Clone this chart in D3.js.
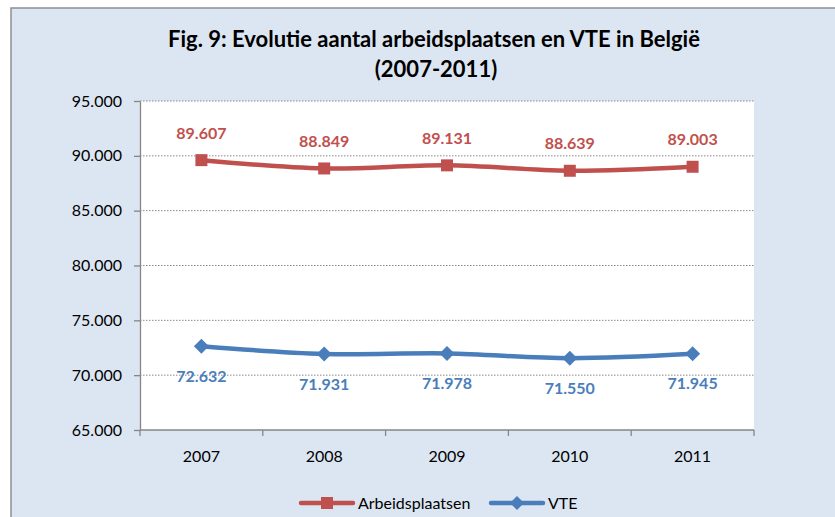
<!DOCTYPE html>
<html>
<head>
<meta charset="utf-8">
<script src="https://cdn.jsdelivr.net/npm/d3@7"></script>
<style>
  body { margin: 0; background: #fff; }
  svg { display: block; font-family: Lato, "Open Sans", sans-serif; }
</style>
</head>
<body>
<div id="chart"></div>
<script>
// --- data ---
const years = ["2007", "2008", "2009", "2010", "2011"];
const arbeidsplaatsen = [89607, 88849, 89131, 88639, 89003];
const vte = [72632, 71931, 71978, 71550, 71945];
const yTicks = [65000, 70000, 75000, 80000, 85000, 90000, 95000];

const width = 835, height = 517;
const margin = { top: 101, right: 81, bottom: 87, left: 140 };
const innerWidth = width - margin.left - margin.right;
const innerHeight = height - margin.top - margin.bottom;

const red = "#c0504d", blue = "#4a7ebb", axisGrey = "#868686";
const fmt = v => d3.format(",")(v).replace(/,/g, ".");

const svg = d3.select("#chart").append("svg")
  .attr("width", width)
  .attr("height", height);

// chart background; its right and bottom edges run off the picture,
// so only the top and left border lines show
svg.append("rect")
  .attr("x", 11).attr("y", 8)
  .attr("width", width - 11).attr("height", height - 8)
  .attr("fill", "#dce6f2");
svg.append("path")
  .attr("d", `M11,${height}V8H${width}`)
  .attr("fill", "none")
  .attr("stroke", "#8e8e8e")
  .attr("stroke-width", 1.5);

const g = svg.append("g")
  .attr("transform", `translate(${margin.left},${margin.top})`);

const x = d3.scaleBand().domain(years).range([0, innerWidth]);
const y = d3.scaleLinear().domain([65000, 95000]).range([innerHeight, 0]);
const cx = d => x(d) + x.bandwidth() / 2;

g.append("rect")
  .attr("width", innerWidth).attr("height", innerHeight)
  .attr("fill", "#fff");

// gridlines
g.append("g")
  .selectAll("line")
  .data(yTicks.filter(t => t > 65000))
  .join("line")
  .attr("x1", 0).attr("x2", innerWidth)
  .attr("y1", d => y(d)).attr("y2", d => y(d))
  .attr("stroke", "#8a8a8a")
  .attr("stroke-width", 1)
  .attr("stroke-dasharray", "1.5,1.5");

// y axis
const yAxis = g.append("g")
  .call(d3.axisLeft(y).tickValues(yTicks).tickFormat(fmt).tickSize(6).tickSizeOuter(0));
yAxis.select(".domain").attr("stroke", axisGrey).attr("stroke-width", 1.3);
yAxis.selectAll(".tick line").attr("stroke", axisGrey).attr("stroke-width", 1.3);
yAxis.selectAll(".tick text")
  .attr("x", -18)
  .attr("font-size", "16px")
  .attr("font-family", "Lato, sans-serif")
  .attr("fill", "#000");

// x axis: ticks sit between categories
const xAxis = g.append("g").attr("transform", `translate(0,${innerHeight})`);
xAxis.append("line")
  .attr("x1", 0).attr("x2", innerWidth)
  .attr("stroke", axisGrey).attr("stroke-width", 1.3);
xAxis.selectAll(".sep")
  .data(years.concat(["end"]))
  .join("line")
  .attr("class", "sep")
  .attr("x1", (d, i) => i * x.step()).attr("x2", (d, i) => i * x.step())
  .attr("y1", 0).attr("y2", 6)
  .attr("stroke", axisGrey).attr("stroke-width", 1.3);
xAxis.selectAll("text")
  .data(years)
  .join("text")
  .attr("x", d => cx(d))
  .attr("y", 32)
  .attr("text-anchor", "middle")
  .attr("font-size", "16px")
  .attr("fill", "#000")
  .text(d => d);

// lines
const line = d3.line()
  .x(d => cx(d.year))
  .y(d => y(d.value))
  .curve(d3.curveCatmullRom.alpha(0));

const series = [
  { name: "Arbeidsplaatsen", color: red, marker: "square", labelDy: -27,
    data: years.map((yr, i) => ({ year: yr, value: arbeidsplaatsen[i] })) },
  { name: "VTE", color: blue, marker: "diamond", labelDy: 30,
    data: years.map((yr, i) => ({ year: yr, value: vte[i] })) }
];

const squareSym = d3.symbol().type(d3.symbolSquare);
const diamondPath = s => `M0,${-s}L${s},0L0,${s}L${-s},0Z`;

series.forEach(s => {
  g.append("path")
    .datum(s.data)
    .attr("fill", "none")
    .attr("stroke", s.color)
    .attr("stroke-width", 4.5)
    .attr("stroke-linecap", "round")
    .attr("d", line);

  g.selectAll(".m-" + s.marker)
    .data(s.data)
    .join("path")
    .attr("class", "m-" + s.marker)
    .attr("transform", d => `translate(${cx(d.year)},${y(d.value)})`)
    .attr("d", s.marker === "square" ? squareSym.size(144)() : diamondPath(7.5))
    .attr("fill", s.color);

  g.selectAll(".lbl-" + s.marker)
    .data(s.data)
    .join("text")
    .attr("class", "lbl-" + s.marker)
    .attr("x", d => cx(d.year))
    .attr("y", d => y(d.value) + s.labelDy)
    .attr("dy", "0.35em")
    .attr("text-anchor", "middle")
    .attr("font-size", "16px")
    .attr("font-weight", "bold")
    .attr("fill", s.color)
    .text(d => fmt(d.value));
});

// title
const title = svg.append("text")
  .attr("text-anchor", "middle")
  .attr("font-size", "22px")
  .attr("font-weight", "bold")
  .attr("fill", "#000");
title.append("tspan").attr("x", 434).attr("y", 47)
  .text("Fig. 9: Evolutie aantal arbeidsplaatsen en VTE in België");
title.append("tspan").attr("x", 436).attr("y", 77)
  .text("(2007-2011)");

// legend
const legend = svg.append("g").attr("transform", "translate(299,503)");
const legendItems = [
  { label: "Arbeidsplaatsen", color: red, marker: "square", x: 0 },
  { label: "VTE", color: blue, marker: "diamond", x: 190 }
];
legendItems.forEach(d => {
  const lg = legend.append("g").attr("transform", `translate(${d.x},0)`);
  lg.append("line")
    .attr("x1", 2).attr("x2", 54)
    .attr("stroke", d.color).attr("stroke-width", 4.5)
    .attr("stroke-linecap", "round");
  lg.append("path")
    .attr("transform", "translate(28,0)")
    .attr("d", d.marker === "square" ? squareSym.size(144)() : diamondPath(7))
    .attr("fill", d.color);
  lg.append("text")
    .attr("x", 59).attr("dy", "0.35em")
    .attr("font-size", "16px")
    .attr("fill", "#000")
    .text(d.label);
});
</script>
</body>
</html>
